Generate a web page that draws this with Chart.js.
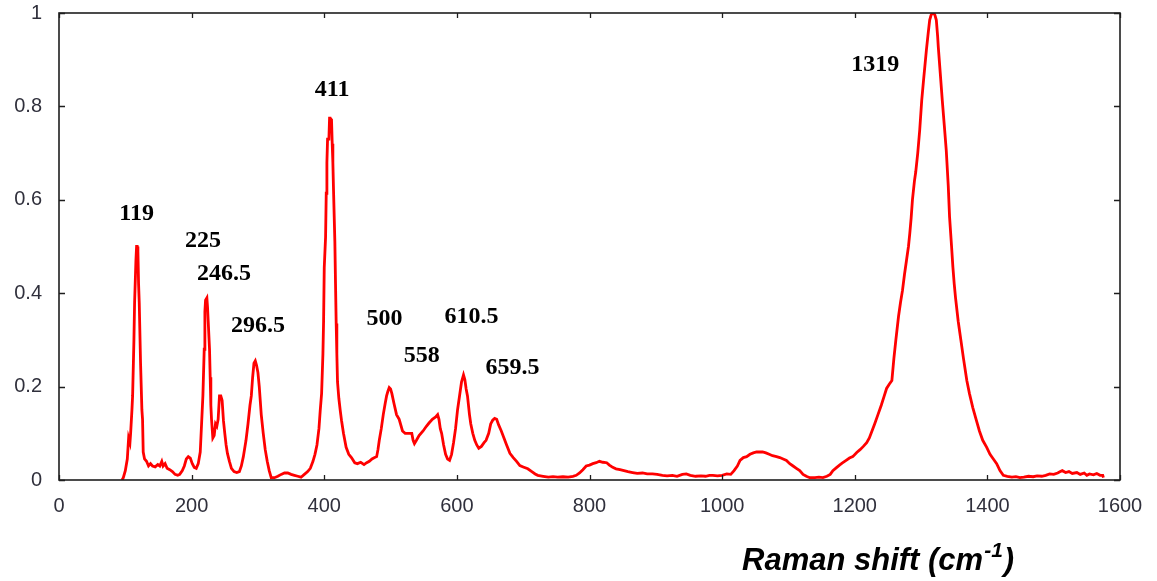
<!DOCTYPE html>
<html>
<head>
<meta charset="utf-8">
<script src="https://cdn.jsdelivr.net/npm/chart.js@4.4.1/dist/chart.umd.min.js"></script>
<style>
  html, body { margin: 0; padding: 0; background: #fff; }
  canvas { display: block; }
</style>
</head>
<body>
<canvas id="raman" width="1157" height="581"></canvas>
<script>
// Raman spectrum (shift in cm-1, normalised intensity)
const shift = [
  95, 97, 100, 103, 105, 107, 108, 110, 111, 113, 114, 116, 117, 118, 119, 120, 121, 123, 125, 126,
  127, 129, 132, 135, 138, 141, 145, 149, 152, 155, 157, 160, 163, 167, 171, 175, 179, 182, 186, 189,
  192, 195, 198, 201, 204, 207, 210, 213, 215, 217, 219, 220, 221, 223, 224, 225, 226, 227, 228, 229,
  230, 232, 234, 236, 238, 240, 242, 244, 246, 248, 250, 252, 254, 257, 260, 264, 268, 272, 275, 278,
  282, 285, 288, 290, 292, 294, 296, 298, 300, 302, 305, 308, 311, 314, 317, 320, 325, 330, 335, 340,
  345, 350, 355, 360, 365, 370, 375, 379, 383, 386, 389, 392, 394, 396, 398, 399, 400, 402, 403, 404,
  405, 407, 408, 409, 410, 411, 412, 413, 414, 416, 417, 418, 419, 420, 422, 424, 426, 429, 433, 437,
  441, 446, 450, 455, 460, 464, 468, 472, 476, 479, 481, 483, 486, 489, 492, 494, 496, 498, 500, 502,
  505, 509, 513, 518, 522, 527, 532, 534, 536, 539, 543, 549, 554, 558, 563, 568, 571, 573, 575, 577,
  580, 583, 586, 589, 592, 595, 598, 601, 604, 607, 610, 612, 614, 616, 619, 621, 624, 627, 630, 633,
  637, 641, 644, 648, 651, 654, 657, 660, 663, 667, 671, 675, 680, 685, 690, 695, 700, 707, 713, 718,
  722, 730, 738, 745, 752, 760, 768, 775, 780, 785, 790, 795, 800, 805, 810, 815, 820, 826, 830, 835,
  840, 846, 852, 858, 865, 872, 880, 887, 895, 902, 910, 917, 925, 932, 940, 946, 952, 960, 968, 975,
  981, 986, 993, 1000, 1007, 1013, 1018, 1023, 1027, 1032, 1037, 1042, 1047, 1052, 1056, 1061, 1066, 1071, 1076, 1082,
  1087, 1092, 1097, 1102, 1107, 1112, 1117, 1122, 1127, 1132, 1140, 1146, 1152, 1158, 1163, 1167, 1172, 1177, 1182, 1187,
  1192, 1197, 1203, 1208, 1213, 1218, 1222, 1226, 1230, 1235, 1240, 1244, 1248, 1252, 1256, 1259, 1262, 1266, 1269, 1272,
  1275, 1278, 1281, 1283, 1285, 1287, 1290, 1292, 1295, 1298, 1301, 1304, 1308, 1311, 1313, 1315, 1317, 1319, 1321, 1323,
  1325, 1326, 1329, 1332, 1335, 1338, 1341, 1343, 1346, 1348, 1350, 1352, 1356, 1360, 1364, 1369, 1373, 1378, 1383, 1388,
  1393, 1399, 1404, 1409, 1414, 1419, 1424, 1430, 1437, 1443, 1449, 1455, 1462, 1469, 1475, 1482, 1488, 1494, 1500, 1506,
  1510, 1513, 1518, 1523, 1528, 1535, 1540, 1546, 1550, 1554, 1560, 1565, 1570, 1574, 1575
]
const intensity = [
  0, 0.005, 0.02, 0.045, 0.09, 0.08, 0.1, 0.15, 0.18, 0.3, 0.38, 0.47, 0.5, 0.5, 0.49, 0.42, 0.38, 0.25, 0.15, 0.13,
  0.06, 0.045, 0.04, 0.03, 0.035, 0.03, 0.028, 0.033, 0.03, 0.04, 0.03, 0.035, 0.025, 0.022, 0.018, 0.012, 0.01, 0.012, 0.02, 0.03,
  0.045, 0.05, 0.047, 0.035, 0.027, 0.025, 0.035, 0.06, 0.12, 0.18, 0.28, 0.36, 0.385, 0.39, 0.37, 0.34, 0.34, 0.28, 0.22, 0.16,
  0.13, 0.09, 0.095, 0.12, 0.115, 0.13, 0.18, 0.18, 0.17, 0.127, 0.1, 0.075, 0.057, 0.04, 0.025, 0.018, 0.016, 0.018, 0.03, 0.05,
  0.085, 0.12, 0.16, 0.18, 0.22, 0.25, 0.255, 0.245, 0.23, 0.2, 0.14, 0.1, 0.065, 0.04, 0.02, 0.005, 0.005, 0.008, 0.012, 0.015,
  0.015, 0.012, 0.01, 0.008, 0.006, 0.012, 0.018, 0.025, 0.04, 0.055, 0.075, 0.11, 0.15, 0.185, 0.27, 0.34, 0.455, 0.52, 0.614, 0.68,
  0.73, 0.73, 0.775, 0.775, 0.77, 0.77, 0.72, 0.68, 0.62, 0.51, 0.42, 0.335, 0.27, 0.21, 0.175, 0.15, 0.128, 0.1, 0.07, 0.055,
  0.048, 0.037, 0.035, 0.038, 0.033, 0.037, 0.04, 0.045, 0.048, 0.05, 0.065, 0.085, 0.11, 0.14, 0.165, 0.18, 0.19, 0.198, 0.195, 0.185,
  0.165, 0.14, 0.13, 0.105, 0.1, 0.1, 0.1, 0.085, 0.078, 0.085, 0.095, 0.105, 0.115, 0.122, 0.13, 0.135, 0.14, 0.13, 0.11, 0.1,
  0.075, 0.055, 0.045, 0.042, 0.055, 0.08, 0.11, 0.15, 0.18, 0.21, 0.225, 0.215, 0.195, 0.18, 0.14, 0.12, 0.1, 0.085, 0.075, 0.068,
  0.072, 0.08, 0.085, 0.1, 0.12, 0.128, 0.132, 0.13, 0.118, 0.105, 0.09, 0.075, 0.057, 0.048, 0.04, 0.031, 0.028, 0.024, 0.018, 0.013,
  0.01, 0.008, 0.006, 0.007, 0.006, 0.007, 0.006, 0.008, 0.01, 0.015, 0.022, 0.03, 0.032, 0.035, 0.037, 0.04, 0.038, 0.037, 0.032, 0.027,
  0.024, 0.022, 0.02, 0.018, 0.016, 0.014, 0.015, 0.013, 0.013, 0.012, 0.01, 0.009, 0.01, 0.008, 0.012, 0.013, 0.01, 0.008, 0.009, 0.008,
  0.01, 0.01, 0.009, 0.01, 0.013, 0.012, 0.02, 0.03, 0.042, 0.048, 0.05, 0.055, 0.058, 0.06, 0.06, 0.06, 0.058, 0.055, 0.052, 0.05,
  0.048, 0.045, 0.042, 0.035, 0.03, 0.025, 0.02, 0.012, 0.008, 0.005, 0.005, 0.006, 0.005, 0.008, 0.012, 0.02, 0.026, 0.032, 0.037, 0.042,
  0.047, 0.05, 0.059, 0.065, 0.072, 0.08, 0.09, 0.105, 0.12, 0.14, 0.16, 0.178, 0.196, 0.205, 0.213, 0.26, 0.3, 0.35, 0.38, 0.406,
  0.44, 0.47, 0.5, 0.528, 0.56, 0.6, 0.64, 0.66, 0.7, 0.75, 0.813, 0.86, 0.92, 0.96, 0.985, 0.995, 1.0, 1.0, 0.995, 0.985,
  0.95, 0.927, 0.87, 0.813, 0.76, 0.706, 0.63, 0.563, 0.5, 0.456, 0.42, 0.39, 0.34, 0.3, 0.26, 0.213, 0.185, 0.155, 0.13, 0.105,
  0.085, 0.07, 0.055, 0.045, 0.035, 0.02, 0.01, 0.008, 0.006, 0.007, 0.005, 0.006, 0.008, 0.007, 0.009, 0.008, 0.01, 0.013, 0.012, 0.015,
  0.018, 0.02, 0.016, 0.018, 0.014, 0.016, 0.012, 0.015, 0.01, 0.013, 0.011, 0.014, 0.01, 0.01, 0.005
]

// peak labels and where they sit (data units)
const peakLabels = ['119', '225', '246.5', '296.5', '411', '500', '558', '610.5', '659.5', '1319']
const labelAt = [
  [117, 0.57], [217, 0.513], [249, 0.442], [300, 0.331], [412, 0.835],
  [491, 0.346], [547, 0.267], [622, 0.35], [684, 0.24], [1231, 0.89]
]

const xTicks = [0, 200, 400, 600, 800, 1000, 1200, 1400, 1600]
const yTicks = [0, 0.2, 0.4, 0.6, 0.8, 1]

const points = shift.map((s, i) => ({ x: s, y: intensity[i] }))

// frame with inward ticks, peak labels and the axis title
const decorations = {
  id: 'decorations',
  afterDatasetsDraw(chart) {
    const { ctx, chartArea: a, scales: { x, y } } = chart
    ctx.save()

    ctx.strokeStyle = '#1e1e1e'
    ctx.lineWidth = 1.6
    ctx.strokeRect(a.left, a.top, a.right - a.left, a.bottom - a.top)

    ctx.beginPath()
    xTicks.forEach(v => {
      const px = Math.round(x.getPixelForValue(v)) + 0.5
      ctx.moveTo(px, a.bottom); ctx.lineTo(px, a.bottom - 5)
      ctx.moveTo(px, a.top); ctx.lineTo(px, a.top + 5)
    })
    yTicks.forEach(v => {
      const py = Math.round(y.getPixelForValue(v)) + 0.5
      ctx.moveTo(a.left, py); ctx.lineTo(a.left + 6, py)
      ctx.moveTo(a.right, py); ctx.lineTo(a.right - 6, py)
    })
    ctx.lineWidth = 1.3
    ctx.stroke()

    ctx.fillStyle = '#000'
    ctx.font = 'bold 24px "Liberation Serif", "Times New Roman", serif'
    ctx.textAlign = 'center'
    ctx.textBaseline = 'middle'
    peakLabels.forEach((t, i) => {
      ctx.fillText(t, x.getPixelForValue(labelAt[i][0]), y.getPixelForValue(labelAt[i][1]))
    })

    // Raman shift (cm-1) with superscript
    ctx.textAlign = 'left'
    ctx.textBaseline = 'alphabetic'
    let tx = 742
    const ty = 570
    ctx.font = 'italic bold 31px "Liberation Sans", Arial, sans-serif'
    ctx.fillText('Raman shift (cm', tx, ty)
    tx += ctx.measureText('Raman shift (cm').width
    ctx.font = 'italic bold 21px "Liberation Sans", Arial, sans-serif'
    ctx.fillText('-1', tx + 1, ty - 13)
    tx += ctx.measureText('-1').width + 2
    ctx.font = 'italic bold 31px "Liberation Sans", Arial, sans-serif'
    ctx.fillText(')', tx, ty)

    ctx.restore()
  }
}

const tickFont = { family: '"Liberation Sans", Arial, sans-serif', size: 20 }

// keep Chart.js from reserving room for half-labels at the ends
const noEdgePadding = s => {
  s.paddingTop = 0; s.paddingBottom = 0; s.paddingLeft = 0; s.paddingRight = 0
}

new Chart(document.getElementById('raman'), {
  type: 'line',
  data: {
    datasets: [{
      data: points,
      borderColor: '#ff0000',
      borderWidth: 2.8,
      pointRadius: 0,
      tension: 0,
      fill: false
    }]
  },
  options: {
    responsive: false,
    animation: false,
    devicePixelRatio: 1,
    layout: { padding: { left: 0, top: 13, right: 37, bottom: 0 } },
    plugins: {
      legend: { display: false },
      tooltip: { enabled: false }
    },
    scales: {
      x: {
        type: 'linear',
        min: 0,
        max: 1600,
        afterFit: s => { s.height = 101; noEdgePadding(s) },
        afterBuildTicks: s => { s.ticks = xTicks.map(v => ({ value: v })) },
        ticks: {
          color: '#30303c',
          font: tickFont,
          padding: 14,
          maxRotation: 0,
          callback: v => String(v)
        },
        grid: { display: false, drawTicks: false },
        border: { display: false }
      },
      y: {
        min: 0,
        max: 1,
        afterFit: s => { s.width = 59; noEdgePadding(s) },
        afterBuildTicks: s => { s.ticks = yTicks.map(v => ({ value: v })) },
        ticks: {
          color: '#30303c',
          font: tickFont,
          padding: 17,
          callback: v => String(v)
        },
        grid: { display: false, drawTicks: false },
        border: { display: false }
      }
    }
  },
  plugins: [decorations]
})
</script>
</body>
</html>
